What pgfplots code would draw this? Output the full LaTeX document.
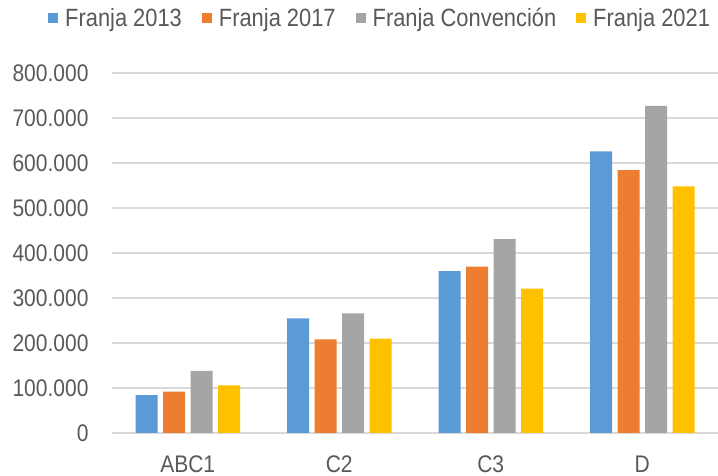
\documentclass[border=0pt]{standalone}
\usepackage{pgfplots}
\pgfplotsset{compat=1.18}
\usepackage{fontspec}
\setmainfont[FakeStretch=0.875]{Liberation Sans}
\definecolor{cblue}{HTML}{5B9BD5}
\definecolor{corange}{HTML}{ED7D31}
\definecolor{cgray}{HTML}{A5A5A5}
\definecolor{cyellow}{HTML}{FFC000}
\definecolor{ctext}{HTML}{595959}
\definecolor{cgrid}{HTML}{D9D9D9}
\begin{document}
\begin{tikzpicture}
\useasboundingbox (0,0) rectangle (718bp,476bp);
\begin{axis}[
  at={(112bp,43bp)}, anchor=south west,
  scale only axis, width=606bp, height=360bp,
  ymin=0, ymax=800000,
  xmin=-0.5, xmax=3.5,
  ybar=5.5bp, bar width=22bp,
  axis line style={draw=none},
  xtick=data, xticklabels={ABC1,C2,C3,D},
  ytick={0,100000,...,800000},
  major tick length=0pt,
  ymajorgrids, grid style={cgrid, line width=1.5bp},
  scaled y ticks=false,
  /pgf/number format/.cd, fixed, 1000 sep={.}, assume math mode=true,
  /pgfplots/.cd,
  tick label style={font=\fontsize{24bp}{26bp}\selectfont, text=ctext},
  yticklabel style={anchor=east, xshift=-20bp},
  xticklabel style={anchor=north, yshift=-19bp},
  legend style={at={(-0.1056,1.1528)}, anchor=west, draw=none, fill=none,
    legend columns=4, inner sep=0pt,
    font=\fontsize{25bp}{27bp}\selectfont, text=ctext,
    /tikz/every odd column/.append style={column sep=5bp},
    /tikz/every even column/.append style={column sep=18bp}},
  legend image code/.code={\draw[#1, draw=none] (0bp,-5bp) rectangle (10bp,5bp);},
]
\addplot[fill=cblue, draw=none] coordinates {(0,84000) (1,255000) (2,360000) (3,626000)};
\addplot[fill=corange, draw=none] coordinates {(0,92000) (1,208000) (2,370000) (3,584000)};
\addplot[fill=cgray, draw=none] coordinates {(0,138000) (1,266000) (2,431000) (3,727000)};
\addplot[fill=cyellow, draw=none] coordinates {(0,106000) (1,210000) (2,321000) (3,548000)};
\legend{Franja 2013, Franja 2017, Franja Convención, Franja 2021}
\end{axis}
\end{tikzpicture}
\end{document}
